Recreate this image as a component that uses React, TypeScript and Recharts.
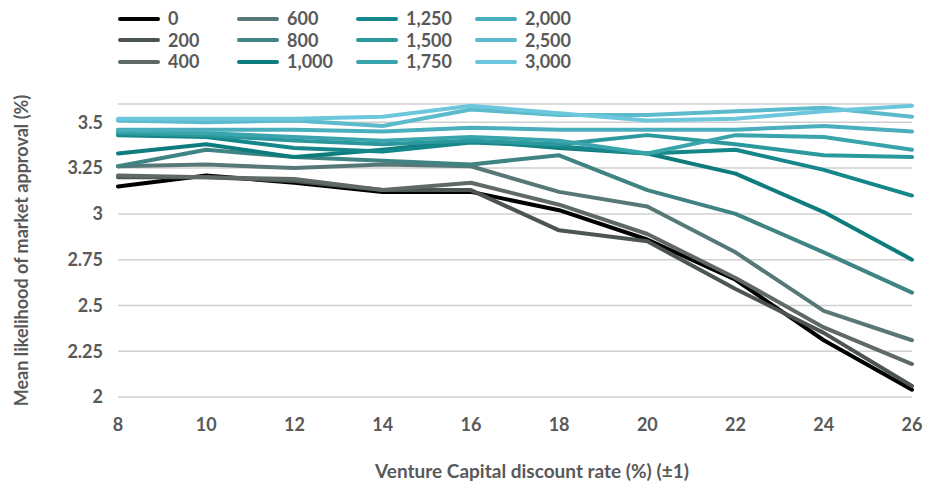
import React from 'react';
import { LineChart, Line, XAxis, YAxis, CartesianGrid } from 'recharts';

const discountRates = [8, 10, 12, 14, 16, 18, 20, 22, 24, 26];

const s0 = [3.15, 3.21, 3.17, 3.12, 3.12, 3.02, 2.86, 2.64, 2.31, 2.04];
const s200 = [3.2, 3.2, 3.18, 3.13, 3.13, 2.91, 2.85, 2.59, 2.35, 2.06];
const s400 = [3.21, 3.2, 3.19, 3.13, 3.17, 3.05, 2.89, 2.65, 2.38, 2.18];
const s600 = [3.26, 3.27, 3.25, 3.27, 3.26, 3.12, 3.04, 2.79, 2.47, 2.31];
const s800 = [3.26, 3.35, 3.31, 3.29, 3.27, 3.32, 3.13, 3.0, 2.79, 2.57];
const s1000 = [3.33, 3.38, 3.31, 3.35, 3.4, 3.36, 3.33, 3.22, 3.01, 2.75];
const s1250 = [3.43, 3.42, 3.36, 3.34, 3.39, 3.37, 3.33, 3.35, 3.24, 3.1];
const s1500 = [3.44, 3.43, 3.4, 3.38, 3.4, 3.38, 3.43, 3.38, 3.32, 3.31];
const s1750 = [3.45, 3.44, 3.42, 3.4, 3.42, 3.4, 3.33, 3.43, 3.42, 3.35];
const s2000 = [3.46, 3.46, 3.46, 3.45, 3.47, 3.46, 3.46, 3.46, 3.48, 3.45];
const s2500 = [3.51, 3.5, 3.51, 3.48, 3.57, 3.54, 3.54, 3.56, 3.58, 3.53];
const s3000 = [3.52, 3.52, 3.52, 3.53, 3.59, 3.55, 3.51, 3.52, 3.56, 3.59];

const yTicks = [2, 2.25, 2.5, 2.75, 3, 3.25, 3.5];

const series = [
  { key: 's0', name: '0', values: s0, color: '#000000' },
  { key: 's200', name: '200', values: s200, color: '#4d5553' },
  { key: 's400', name: '400', values: s400, color: '#5f6a68' },
  { key: 's600', name: '600', values: s600, color: '#587878' },
  { key: 's800', name: '800', values: s800, color: '#408383' },
  { key: 's1000', name: '1,000', values: s1000, color: '#0e7c7d' },
  { key: 's1250', name: '1,250', values: s1250, color: '#15878a' },
  { key: 's1500', name: '1,500', values: s1500, color: '#2a989c' },
  { key: 's1750', name: '1,750', values: s1750, color: '#3aa4ad' },
  { key: 's2000', name: '2,000', values: s2000, color: '#4aaebd' },
  { key: 's2500', name: '2,500', values: s2500, color: '#5bbacc' },
  { key: 's3000', name: '3,000', values: s3000, color: '#6cc6dc' },
];

const data = discountRates.map((rate, i) => {
  const row: any = { rate };
  series.forEach(s => { row[s.key] = s.values[i]; });
  return row;
});

const FONT = "Lato, sans-serif";
const TEXT = '#595959';

const ChartLegend = () => (
  <div style={{ position: 'absolute', left: 118, top: 8, display: 'grid', gridTemplateColumns: 'repeat(4, 119px)', gridAutoFlow: 'column', gridTemplateRows: 'repeat(3, 21.5px)' }}>
    {series.map(s => (
      <div key={s.key} style={{ display: 'flex', alignItems: 'center', height: 21.5 }}>
        <svg width={46} height={8} style={{ flex: 'none' }}>
          <line x1={2} y1={4} x2={40} y2={4} stroke={s.color} strokeWidth={4} strokeLinecap="round" />
        </svg>
        <span style={{ fontFamily: FONT, fontWeight: 700, fontSize: 18, color: TEXT, marginLeft: 4, lineHeight: '21px' }}>{s.name}</span>
      </div>
    ))}
  </div>
);

export default function App() {
  return (
    <div style={{ position: 'absolute', left: 0, top: 0, width: 928, height: 489, background: '#fff' }}>
      <LineChart width={928} height={489} data={data} margin={{ top: 104, right: 16, bottom: 0, left: 0 }}>
        <CartesianGrid vertical={false} stroke="#d0d0d0" strokeWidth={1.5} />
        <XAxis
          dataKey="rate"
          axisLine={false}
          tickLine={false}
          tickSize={0}
          tickMargin={21}
          height={92}
          tick={{ fontSize: 18, fontWeight: 700, fill: TEXT, fontFamily: FONT }}
          interval={0}
          label={{ value: 'Venture Capital discount rate (%) (±1)', position: 'insideBottom', offset: 11, dx: 17, fill: TEXT, fontSize: 19, fontWeight: 700, fontFamily: FONT }}
        />
        <YAxis
          domain={[2, 3.6]}
          ticks={yTicks}
          allowDataOverflow
          axisLine={false}
          tickLine={false}
          tickSize={0}
          tickMargin={15}
          width={118}
          tick={{ fontSize: 18, fontWeight: 700, fill: TEXT, fontFamily: FONT }}
          label={{ value: 'Mean likelihood of market approval (%)', angle: -90, position: 'insideLeft', offset: 22, fill: TEXT, fontSize: 18, fontWeight: 700, fontFamily: FONT, style: { textAnchor: 'middle' } }}
        />
        {series.map(s => (
          <Line
            key={s.key}
            type="linear"
            dataKey={s.key}
            name={s.name}
            stroke={s.color}
            strokeWidth={4}
            strokeLinecap="round"
            strokeLinejoin="round"
            dot={false}
            activeDot={false}
            isAnimationActive={false}
          />
        ))}
      </LineChart>
      <ChartLegend />
    </div>
  );
}
